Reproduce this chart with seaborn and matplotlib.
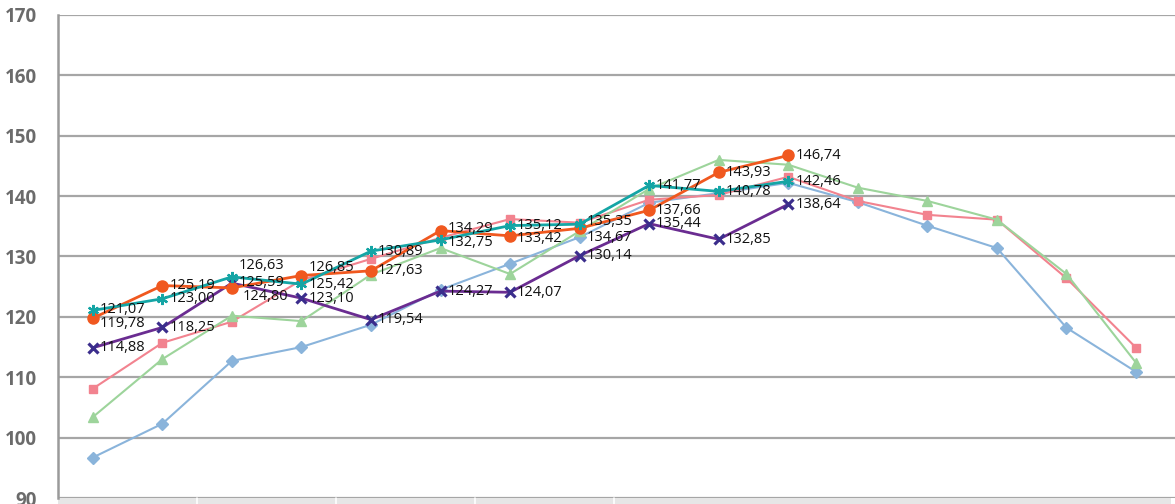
import numpy as np
import pandas as pd
import seaborn as sns
import matplotlib.pyplot as plt
import matplotlib.transforms as mtransforms

# values (16 categories, last three series stop at 11)
blue = [96.7, 102.3, 112.7, 115.0, 118.7, 124.5, 128.8, 133.2, 138.9, 140.5, 142.2,
        139.0, 135.1, 131.4, 118.2, 110.9]
pink = [108.1, 115.7, 119.2, 126.1, 129.6, 133.1, 136.2, 135.6, 139.4, 140.2, 143.2,
        139.2, 136.9, 136.1, 126.4, 114.9]
green = [103.4, 113.0, 120.2, 119.3, 127.0, 131.4, 127.1, 134.2, 141.2, 146.0, 145.2,
         141.4, 139.2, 136.1, 127.1, 112.4]
purple = [114.88, 118.25, 125.59, 123.10, 119.54, 124.27, 124.07, 130.14, 135.44, 132.85, 138.64]
orange = [119.78, 125.19, 124.80, 126.85, 127.63, 134.29, 133.42, 134.67, 137.66, 143.93, 146.74]
teal = [121.07, 123.00, 126.63, 125.42, 130.89, 132.75, 135.12, 135.35, 141.77, 140.78, 142.46]

yticks = [90, 100, 110, 120, 130, 140, 150, 160, 170]

W, H = 1175, 504
fig = plt.figure(figsize=(W / 100, H / 100), dpi=100)
sns.set_style("white")
plt.rcParams['font.family'] = ['Open Sans', 'DejaVu Sans']

left, bottom, top = 58, 6, 489
ax = fig.add_axes([left / W, bottom / H, (W - left) / W, (top - bottom) / H])

step = 69.55
ax.set_xlim(-0.5, -0.5 + (W - left) / step)
ax.set_ylim(90, 170)

styles = [
    (blue, '#8ab4db', 'D', 6.0, 1.5, 1.0),
    (pink, '#f2838f', 's', 6.0, 1.5, 1.0),
    (green, '#9dd49b', '^', 6.5, 1.5, 1.0),
    (purple, '#6a2c91', 'x', 7.0, 2.0, 2.3),
    (orange, '#f0581f', 'o', 8.0, 2.0, 1.0),
    (teal, '#14a5a5', (6, 2, 0), 8.0, 2.0, 1.6),
]
for vals, col, mk, ms, lw, mew in styles:
    d = pd.DataFrame({'x': np.arange(len(vals)), 'y': vals})
    mcol = '#3b2d8c' if mk == 'x' else col
    sns.lineplot(data=d, x='x', y='y', ax=ax, color=col, linewidth=lw,
                 marker=mk, markersize=ms, markeredgewidth=mew,
                 markerfacecolor=mcol, markeredgecolor=mcol, clip_on=False, zorder=3)

# data labels (nudges in points where labels collide in the reference)
nudge = {('orange', 0): -3.5, ('teal', 0): 0.7,
         ('teal', 2): 8.5, ('orange', 2): -6.5, ('purple', 2): 0.8,
         ('orange', 3): 5.5,
         ('orange', 5): 1.5, ('teal', 5): -2,
         ('orange', 6): -2.2,
         ('teal', 7): 2.2, ('orange', 7): -6.5}
shift = {('orange', 2): 8}
for name, vals in [('purple', purple), ('orange', orange), ('teal', teal)]:
    for i, v in enumerate(vals):
        dy = nudge.get((name, i), 0)
        dx = shift.get((name, i), 5)
        ax.annotate(f"{v:.2f}".replace('.', ','), (i, v), xytext=(dx, dy),
                    textcoords='offset points', ha='left', va='center',
                    fontsize=10.5, color='#111111', zorder=5)

ax.set_yticks(yticks)
ax.set_xticks([])
ax.grid(axis='y', color='#a6a6a6', linewidth=1.6)
ax.set_axisbelow(True)
for s in ['top', 'right', 'bottom']:
    ax.spines[s].set_visible(False)
ax.spines['left'].set_color('#9a9a9a')
ax.spines['left'].set_linewidth(1.8)
ax.tick_params(axis='y', length=7, width=1.6, color='#a6a6a6', pad=8,
               labelsize=13.5, labelcolor='#6b6b6b')
for t in ax.get_yticklabels():
    t.set_fontweight('bold')
ax.set_xlabel('')
ax.set_ylabel('')

# light category band along the bottom
trans = mtransforms.blended_transform_factory(ax.transData, ax.transAxes)
ax.add_patch(plt.Rectangle((-0.5, -0.02), 16, 0.02, transform=trans,
                           facecolor='#e6e6e6', edgecolor='none', clip_on=False))
for xs in [1.5, 3.5, 5.5, 7.5]:
    ax.plot([xs, xs], [-0.02, 0], transform=trans, color='white', lw=1.2, clip_on=False)

fig.savefig('out.png', dpi=100)
